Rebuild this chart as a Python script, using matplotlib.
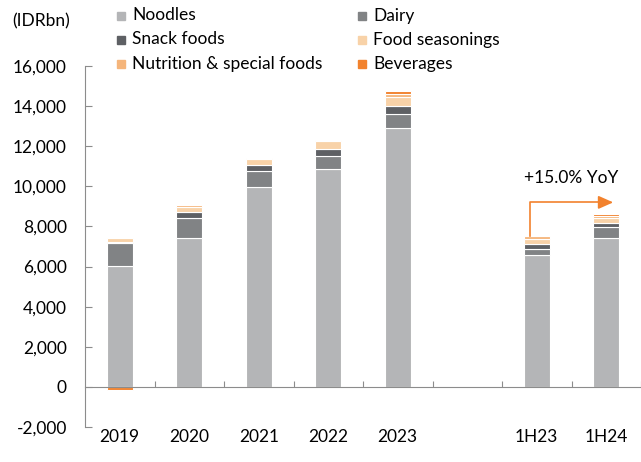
import numpy as np
import matplotlib.pyplot as plt
from matplotlib.patches import Rectangle
from matplotlib.transforms import blended_transform_factory

plt.rcParams['font.family'] = ['Lato', 'DejaVu Sans']

# segment EBIT, IDR bn
periods = ['2019', '2020', '2021', '2022', '2023', '1H23', '1H24']
slots = [0, 1, 2, 3, 4, 6, 7]
noodles = [6050, 7400, 9950, 10850, 12900, 6600, 7400]
dairy = [1100, 1000, 800, 650, 700, 300, 550]
snack = [50, 300, 300, 350, 400, 200, 200]
seasonings = [200, 250, 300, 400, 450, 250, 250]
nutrition = [0, 100, 50, 50, 150, 150, 125]
beverages = [-150, 0, 0, 0, 150, 0, 100]

series = [('Noodles', noodles, '#b4b5b7'),
          ('Dairy', dairy, '#818385'),
          ('Snack foods', snack, '#5e6064'),
          ('Food seasonings', seasonings, '#f8d2a8'),
          ('Nutrition & special foods', nutrition, '#f5b57b'),
          ('Beverages', beverages, '#f2822d')]

W, H = 641, 462
fs = 12.5
fig = plt.figure(figsize=(W / 100, H / 100), dpi=100)
ax = fig.add_axes([85 / W, 1 - 427 / H, 556 / W, 361 / H])

pos = np.zeros(len(slots))
neg = np.zeros(len(slots))
for name, vals, col in series:
    v = np.array(vals, dtype=float)
    bottom = np.where(v >= 0, pos, neg)
    ax.bar(slots, v, bottom=bottom, width=0.37, color=col,
           edgecolor='white', linewidth=0.8, zorder=2)
    pos += np.where(v >= 0, v, 0)
    neg += np.where(v < 0, v, 0)

ax.set_xlim(-0.5, 7.5)
ax.set_ylim(-2000, 16000)
yt = list(range(-2000, 16001, 2000))
ax.set_yticks(yt)
ax.set_yticklabels([f'{t:,}' for t in yt])

for s in ['top', 'right']:
    ax.spines[s].set_visible(False)
ax.spines['bottom'].set_position(('data', 0))
ax.spines['left'].set_color('#8c8c8c')
ax.spines['bottom'].set_color('#8c8c8c')
ax.tick_params(axis='y', direction='in', length=5, color='#8c8c8c',
               labelsize=fs, pad=13)
ax.set_xticks(np.arange(0.5, 7.6, 1))
ax.set_xticklabels([])
ax.tick_params(axis='x', direction='in', length=4, color='#8c8c8c')

trans = blended_transform_factory(ax.transData, ax.transAxes)
for x, p in zip(slots, periods):
    ax.text(x, -0.028, p, transform=trans, ha='center', va='center', fontsize=fs)

fig.text(12 / W, 1 - 21 / H, '(IDRbn)', fontsize=fs, va='center')

# YoY arrow from 1H23 to 1H24
total_1h23 = pos[5] + neg[5]
total_1h24 = pos[6] + neg[6]
yoy = (total_1h24 / total_1h23 - 1) * 100
arrow_y = 9200
ax.plot([5.9, 5.9, 6.95], [total_1h23, arrow_y, arrow_y], color='#f2822d',
        lw=1.2, zorder=3)
ax.annotate('', xy=(7.1, arrow_y), xytext=(6.9, arrow_y),
            arrowprops=dict(arrowstyle='-|>,head_length=0.9,head_width=0.4',
                            color='#f2822d', lw=1.2, shrinkA=0, shrinkB=0))
ax.text(6.5, 10400, f'+{yoy:.1f}% YoY', ha='center', va='center', fontsize=fs)

# legend laid out row by row, two columns
col_x = [117, 358]
row_y = [15.5, 39.5, 63.5]
for i, (name, vals, col) in enumerate(series):
    r, c = divmod(i, 2)
    x0, yc = col_x[c], row_y[r]
    fig.patches.append(Rectangle((x0 / W, 1 - (yc + 4) / H), 8 / W, 8 / H,
                                 transform=fig.transFigure, color=col))
    fig.text((x0 + 15) / W, 1 - yc / H, name, fontsize=fs, va='center')

fig.savefig('out.png', dpi=100)
